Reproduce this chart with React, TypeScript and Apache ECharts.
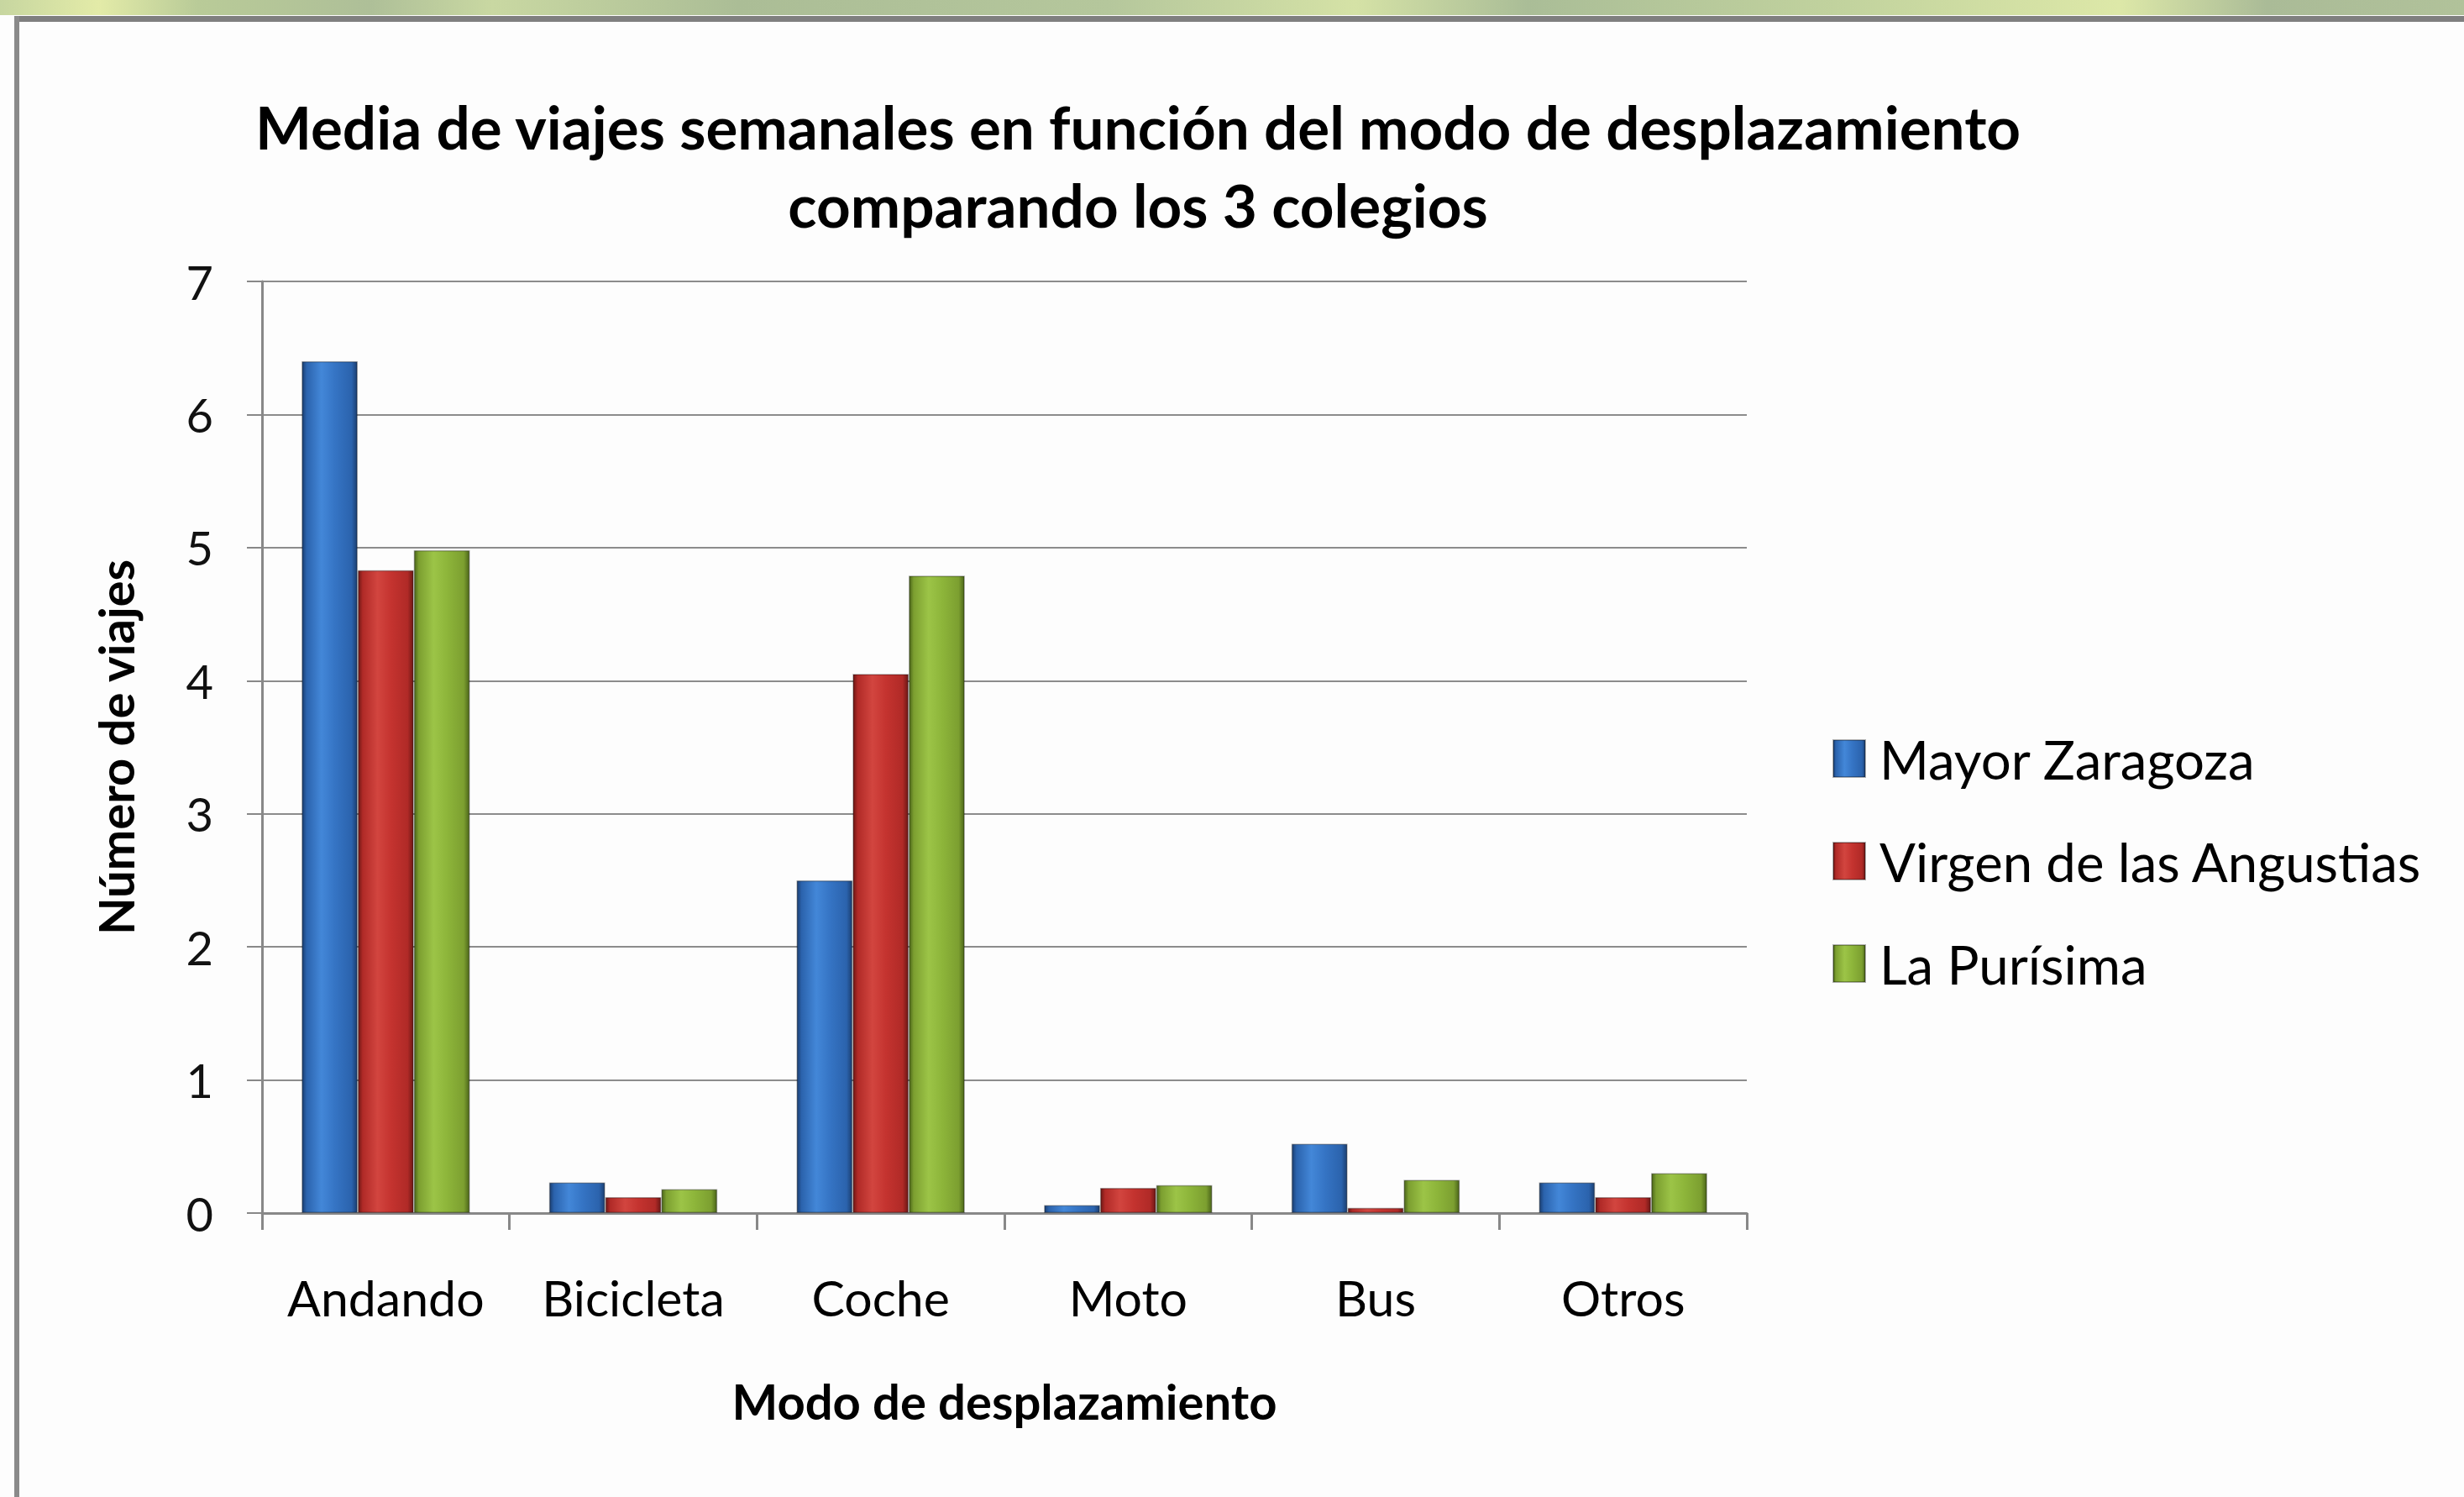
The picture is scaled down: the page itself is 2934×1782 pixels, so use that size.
import React, { useEffect, useRef } from "react";
import * as echarts from "echarts";

const categories = ["Andando", "Bicicleta", "Coche", "Moto", "Bus", "Otros"];
const seriesNames = ["Mayor Zaragoza", "Virgen de las Angustias", "La Purísima"];
const mayorZaragoza = [6.4, 0.23, 2.5, 0.06, 0.52, 0.23];
const virgenAngustias = [4.83, 0.12, 4.05, 0.19, 0.04, 0.12];
const laPurisima = [4.98, 0.18, 4.79, 0.21, 0.25, 0.3];
const yTicks = { min: 0, max: 7, interval: 1 };
const titleLines = [
  "Media de viajes semanales en función del modo de desplazamiento",
  "comparando los 3 colegios",
];
const yAxisTitle = "Número de viajes";
const xAxisTitle = "Modo de desplazamiento";

const FONT = "Lato, 'Open Sans', sans-serif";

function barGradient(edge: string, mid: string, light: string, dark: string) {
  return new echarts.graphic.LinearGradient(0, 0, 1, 0, [
    { offset: 0, color: dark },
    { offset: 0.08, color: edge },
    { offset: 0.35, color: light },
    { offset: 0.6, color: mid },
    { offset: 0.9, color: edge },
    { offset: 1, color: dark },
  ]);
}

export default function App() {
  const ref = useRef<HTMLDivElement>(null);
  useEffect(() => {
    document.body.style.margin = "0";
    if (!ref.current) return;
    const chart = echarts.init(ref.current, null, { renderer: "svg" });
    const colors = [
      barGradient("#2b63ad", "#3574c4", "#4387d8", "#1b3f72"),
      barGradient("#b02a27", "#c4332f", "#d2453f", "#6e1715"),
      barGradient("#7c9f30", "#8db53a", "#9cc447", "#4c661a"),
    ];
    const data = [mayorZaragoza, virgenAngustias, laPurisima];
    chart.setOption({
      animation: false,
      backgroundColor: "#fdfdfd",
      graphic: [
        {
          type: "rect",
          shape: { x: 0, y: 0, width: 2934, height: 18 },
          style: {
            fill: new echarts.graphic.LinearGradient(0, 0, 1, 0, [
              { offset: 0, color: "#c7d6a0" },
              { offset: 0.04, color: "#e3eba8" },
              { offset: 0.08, color: "#b9cb98" },
              { offset: 0.15, color: "#aebf98" },
              { offset: 0.2, color: "#c9d8a2" },
              { offset: 0.3, color: "#abbd96" },
              { offset: 0.45, color: "#b5c79c" },
              { offset: 0.55, color: "#d5e2a6" },
              { offset: 0.62, color: "#aabd97" },
              { offset: 0.75, color: "#c2d39e" },
              { offset: 0.86, color: "#dde8a8" },
              { offset: 0.92, color: "#aabb97" },
              { offset: 1, color: "#b1c29a" },
            ]),
          },
          silent: true,
        },
        {
          type: "rect",
          shape: { x: 17, y: 19, width: 2917, height: 7 },
          style: { fill: "#7f7f7f" },
          silent: true,
        },
        {
          type: "rect",
          shape: { x: 17, y: 19, width: 6, height: 1763 },
          style: { fill: "#8a8a8a" },
          silent: true,
        },
        {
          type: "text",
          x: 1355,
          y: 150,
          style: {
            text: titleLines[0],
            fill: "#000",
            font: `bold 71px ${FONT}`,
            textAlign: "center",
            textVerticalAlign: "middle",
          },
        },
        {
          type: "text",
          x: 1355,
          y: 243,
          style: {
            text: titleLines[1],
            fill: "#000",
            font: `bold 71px ${FONT}`,
            textAlign: "center",
            textVerticalAlign: "middle",
          },
        },
      ],
      grid: { left: 312, right: 854, top: 335, bottom: 338, containLabel: false },
      legend: {
        orient: "vertical",
        left: 2182,
        top: 871,
        padding: 0,
        itemWidth: 38,
        itemHeight: 44,
        itemGap: 58,
        icon: "rect",
        data: seriesNames,
        textStyle: {
          fontFamily: FONT,
          fontSize: 63.5,
          color: "#000",
          lineHeight: 64,
          padding: [0, 0, 0, 12],
        },
      },
      xAxis: {
        type: "category",
        data: categories,
        name: xAxisTitle,
        nameLocation: "middle",
        nameGap: 194,
        nameTextStyle: { fontFamily: FONT, fontSize: 58, fontWeight: "bold", color: "#000" },
        axisLine: { lineStyle: { color: "#888", width: 3 } },
        axisTick: { show: true, length: 20, interval: 0, lineStyle: { color: "#888", width: 3 } },
        axisLabel: { fontFamily: FONT, fontSize: 59, color: "#000", margin: 71, interval: 0 },
        splitLine: { show: false },
      },
      yAxis: {
        type: "value",
        min: yTicks.min,
        max: yTicks.max,
        interval: yTicks.interval,
        name: yAxisTitle,
        nameLocation: "middle",
        nameGap: 146,
        nameRotate: 90,
        nameTextStyle: { fontFamily: FONT, fontSize: 58, fontWeight: "bold", color: "#000" },
        axisLine: { show: true, lineStyle: { color: "#888", width: 3 } },
        axisTick: { show: true, length: 18, lineStyle: { color: "#888", width: 2 } },
        axisLabel: { fontFamily: FONT, fontSize: 56, color: "#111", margin: 58 },
        splitLine: { show: true, lineStyle: { color: "#8c8c8c", width: 2 } },
      },
      series: seriesNames.map((name, i) => ({
        name,
        type: "bar",
        data: data[i],
        barGap: "0%",
        barCategoryGap: "32%",
        itemStyle: { color: colors[i], borderColor: "rgba(0,0,0,0.3)", borderWidth: 1.5 },
      })),
    });
    return () => chart.dispose();
  }, []);
  return <div ref={ref} style={{ width: 2934, height: 1782 }} />;
}
